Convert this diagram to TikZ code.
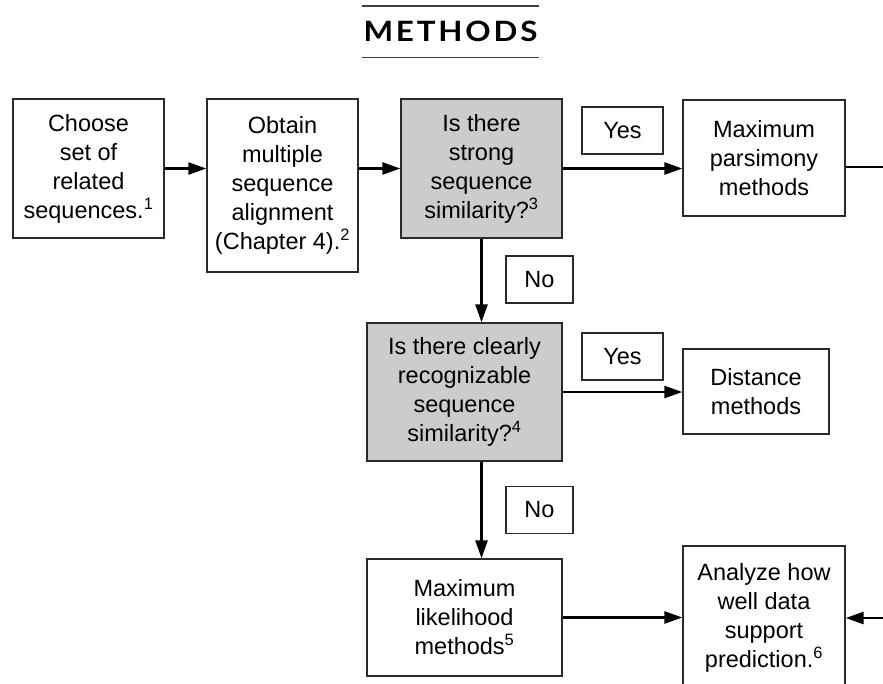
\documentclass[tikz,border=0pt]{standalone}
\usepackage{fontspec}
\setmainfont{Liberation Sans}
\newfontfamily\titlefont[LetterSpace=9]{Lato}
\usetikzlibrary{arrows.meta}
\definecolor{qfill}{HTML}{CCCCCC}
\definecolor{boxline}{HTML}{2A2A2A}
\tikzset{
  stepbox/.style={draw=boxline, line width=1.3pt, align=center, inner sep=0pt,
                  font=\fontsize{23.5}{29}\selectfont},
  qbox/.style={stepbox, fill=qfill},
  tagbox/.style={draw=boxline, line width=1.1pt, inner sep=0pt,
                 minimum height=47pt, font=\fontsize{23.5}{29}\selectfont},
  flow/.style={line width=2.6pt, -{Triangle[length=18pt,width=12pt]}},
}

\begin{document}
\begin{tikzpicture}[x=1pt, y=-1pt]
    \clip (0,0) rectangle (883,683);
    \node[minimum width=177pt, minimum height=51pt, inner sep=0pt,
          font=\titlefont\bfseries\fontsize{28}{28}\selectfont] (title) at (450.5, 31.5)
        {\scalebox{1.12}[1]{METHODS}};
    \draw[line width=1.4pt, black!75] (title.north west) -- (title.north east);
    \draw[line width=1.4pt, black!75] (title.south west) -- (title.south east);
    \node[stepbox, minimum width=151pt, minimum height=139pt] (b1) at (88.5, 168.5)
        {Choose\\set of\\related\\sequences.\textsuperscript{1}};
    \node[stepbox, minimum width=151pt, minimum height=173pt] (b2) at (282.5, 185.5)
        {Obtain\\multiple\\sequence\\alignment\\(Chapter 4).\textsuperscript{2}};
    \node[qbox, minimum width=161pt, minimum height=139pt] (b3) at (481.5, 168.5)
        {Is there\\strong\\sequence\\similarity?\textsuperscript{3}};
    \node[stepbox, minimum width=162pt, minimum height=116pt] (b4) at (764, 158)
        {Maximum\\parsimony\\methods};
    \node[qbox, minimum width=195pt, minimum height=138pt] (b5) at (464.5, 392)
        {Is there clearly\\recognizable\\sequence\\similarity?\textsuperscript{4}};
    \node[stepbox, minimum width=146pt, minimum height=85pt] (b6) at (756, 391.5)
        {Distance\\methods};
    \node[stepbox, minimum width=195pt, minimum height=117pt] (b7) at (464.5, 617.5)
        {Maximum\\likelihood\\methods\textsuperscript{5}};
    \node[stepbox, minimum width=162pt, minimum height=144pt] (b8) at (764, 618)
        {Analyze how\\well data\\support\\prediction.\textsuperscript{6}};
    \node[tagbox, minimum width=81pt] (yes1) at (622.5, 130.5) {Yes};
    \node[tagbox, minimum width=81pt] (yes2) at (622.5, 356.5) {Yes};
    \node[tagbox, minimum width=67pt] (no1) at (539.5, 279.5) {No};
    \node[tagbox, minimum width=67pt] (no2) at (539.5, 510) {No};
    \coordinate (outtop) at (883, 167);
    \coordinate (outbot) at (883, 618);
    \draw[flow] (b1.east) -- (b1.east -| b2.west);
    \draw[flow] (b1.east -| b2.east) -- (b1.east -| b3.west);
    \draw[flow] (b3.east) -- (b3.east -| b4.west);
    \draw[line width=2.6pt] (b4.east |- outtop) -- (outtop);
    \draw[flow] (b3.south) -- (b3.south |- b5.north);
    \draw[flow] (b5.east) -- (b5.east -| b6.west);
    \draw[flow] (b3.south |- b5.south) -- (b3.south |- b7.north);
    \draw[flow] (b7.east) -- (b7.east -| b8.west);
    \draw[flow] (outbot) -- (b8.east |- outbot);
\end{tikzpicture}
\end{document}
